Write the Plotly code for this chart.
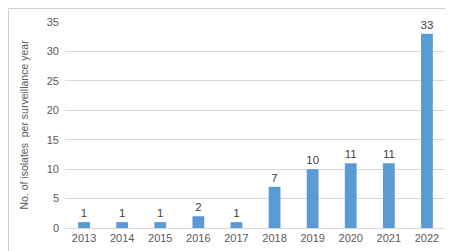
import plotly.graph_objects as go

years = ["2013", "2014", "2015", "2016", "2017", "2018", "2019", "2020", "2021", "2022"]
isolates = [1, 1, 1, 2, 1, 7, 10, 11, 11, 33]
y_ticks = [0, 5, 10, 15, 20, 25, 30, 35]
y_title = "No. of isolates  per surveillance year"

W, H = 453, 251
L, R, T, B = 57, 15, 14, 31
pw, ph = W - L - R, H - T - B

font_fam = "Liberation Sans Narrow, Arial Narrow, Liberation Sans, Arial, sans-serif"
gray = "#595959"

fig = go.Figure(go.Bar(
    x=years, y=isolates,
    marker=dict(color="#5B9BD5", line=dict(width=0)),
    text=[str(v) for v in isolates], textposition="outside",
    textfont=dict(family=font_fam, size=11.5, color="#404040"),
    constraintext="none",
    cliponaxis=False, width=0.31,
))

fig.update_layout(
    width=W, height=H,
    margin=dict(l=L, r=R, t=T, b=B, autoexpand=False),
    paper_bgcolor="white", plot_bgcolor="white",
    showlegend=False,
    font=dict(family=font_fam, size=11, color=gray),
    xaxis=dict(showgrid=False, showline=True, linecolor="#d9d9d9", linewidth=1,
               ticks="", tickfont=dict(size=11, color=gray)),
    yaxis=dict(range=[0, 35], tickvals=y_ticks, showgrid=True, gridcolor="#d9d9d9",
               gridwidth=1, zeroline=False, showline=False, ticks="",
               ticklabelstandoff=5, automargin=False,
               tickfont=dict(size=11, color=gray),
               title=dict(text=y_title, font=dict(size=10.5, color=gray), standoff=16)),
    shapes=[dict(type="rect", xref="paper", yref="paper",
                 x0=-(L - 0.5) / pw, x1=(W - L - 0.5) / pw,
                 y0=-(B - 0.5) / ph, y1=(H - B - 0.5) / ph,
                 line=dict(color="#d0d0d0", width=1), layer="above")],
)

fig.write_html("out.html")
